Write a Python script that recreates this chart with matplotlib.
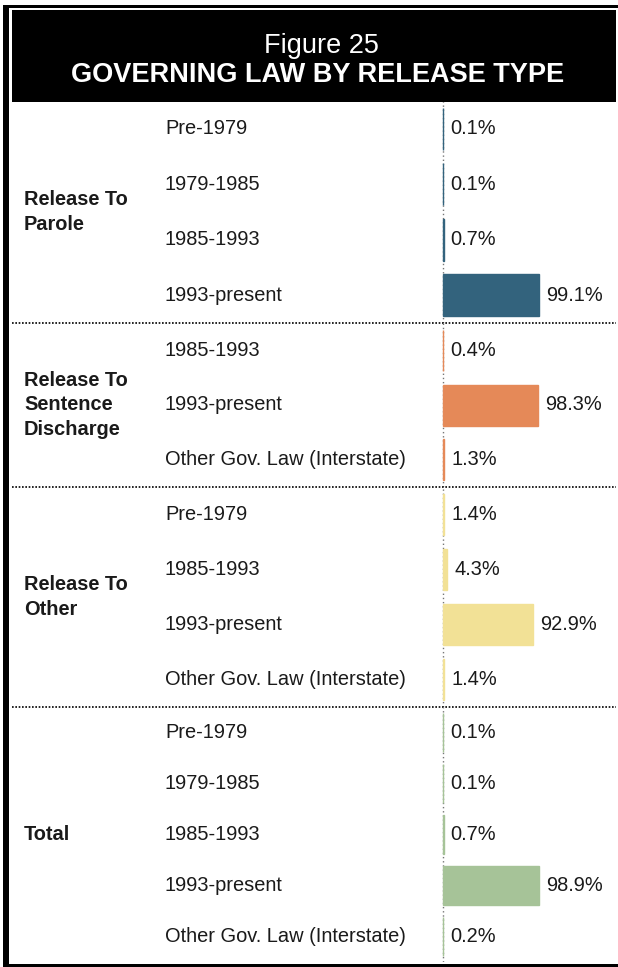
import matplotlib.pyplot as plt
from matplotlib.patches import Rectangle
from matplotlib.transforms import blended_transform_factory

plt.rcParams['font.family'] = ['Liberation Sans', 'DejaVu Sans']

# ---- data ----
title_top = "Figure 25"
title_main = "GOVERNING LAW BY RELEASE TYPE"

group_names = ["Release To\nParole", "Release To\nSentence\nDischarge", "Release To\nOther", "Total"]

parole_labels = ["Pre-1979", "1979-1985", "1985-1993", "1993-present"]
parole_values = [0.1, 0.1, 0.7, 99.1]

discharge_labels = ["1985-1993", "1993-present", "Other Gov. Law (Interstate)"]
discharge_values = [0.4, 98.3, 1.3]

other_labels = ["Pre-1979", "1985-1993", "1993-present", "Other Gov. Law (Interstate)"]
other_values = [1.4, 4.3, 92.9, 1.4]

total_labels = ["Pre-1979", "1979-1985", "1985-1993", "1993-present", "Other Gov. Law (Interstate)"]
total_values = [0.1, 0.1, 0.7, 98.9, 0.2]

group_labels = [parole_labels, discharge_labels, other_labels, total_labels]
group_values = [parole_values, discharge_values, other_values, total_values]
group_colors = ["#33637D", "#E58958", "#F2E196", "#A6C398"]

# ---- layout (pixels) ----
W, H = 618, 967
fig = plt.figure(figsize=(W / 100, H / 100), dpi=100)

px_left, px_right = 12, 616
px_zero = 443
px_per_pct = 0.97
group_px = [(101, 323), (323, 487), (487, 707), (707, 962)]

# frame
fig.add_artist(Rectangle((3 / W, 1 - 965 / H), 6 / W, 960 / H, transform=fig.transFigure, color="black", lw=0))
fig.add_artist(Rectangle((3 / W, 1 - 8 / H), (W - 3) / W, 3 / H, transform=fig.transFigure, color="black", lw=0))
fig.add_artist(Rectangle((3 / W, 1 - 967 / H), (W - 3) / W, 3 / H, transform=fig.transFigure, color="black", lw=0))

# header
fig.add_artist(Rectangle((px_left / W, 1 - 102 / H), (px_right - px_left) / W, 92 / H,
                         transform=fig.transFigure, color="black", lw=0))
fig.text(321 / W, 1 - 46 / H, title_top, color="white", fontsize=19.5, ha="center", va="center")
fig.text(318 / W, 1 - 75 / H, title_main, color="white", fontsize=19.5, fontweight="bold",
         ha="center", va="center")

text_color = "#1a1a1a"
xmin = -(px_zero - px_left) / px_per_pct
xmax = (px_right - px_zero) / px_per_pct

for g, (top, bot) in enumerate(group_px):
    labels = group_labels[g]
    values = group_values[g]
    n = len(labels)
    ax = fig.add_axes([px_left / W, 1 - bot / H, (px_right - px_left) / W, (bot - top) / H])
    ax.set_xlim(xmin, xmax)
    ax.set_ylim(n - 0.5, -0.5)
    ax.axis("off")

    ax.barh(range(n), values, height=0.75, color=group_colors[g],
            edgecolor=group_colors[g], linewidth=1.0, zorder=3)
    ax.axvline(0, color="#777777", lw=1, ls=(0, (1, 2)), zorder=1)

    trans = blended_transform_factory(ax.transAxes, ax.transData)
    for i, (lab, v) in enumerate(zip(labels, values)):
        ax.text((165 - px_left) / (px_right - px_left), i, lab, transform=trans,
                fontsize=14.4, color=text_color, va="center", ha="left")
        ax.annotate(f"{v}%", (v, i), xytext=(5, 0), textcoords="offset points",
                    fontsize=14.4, color=text_color, va="center", ha="left")

    ax.text((24 - px_left) / (px_right - px_left), 0.5, group_names[g], transform=ax.transAxes,
            fontsize=14.4, fontweight="bold", color=text_color, va="center", ha="left",
            linespacing=1.38)

    if g == 0:
        ax.axhline(-0.5, color="#888888", lw=1.2, ls=(0, (1, 1)), clip_on=False)
    if g < len(group_px) - 1:
        ax.axhline(n - 0.5, color="black", lw=1.2, ls=(0, (1, 1)), clip_on=False)

fig.savefig("out.png", dpi=100, facecolor="white")
